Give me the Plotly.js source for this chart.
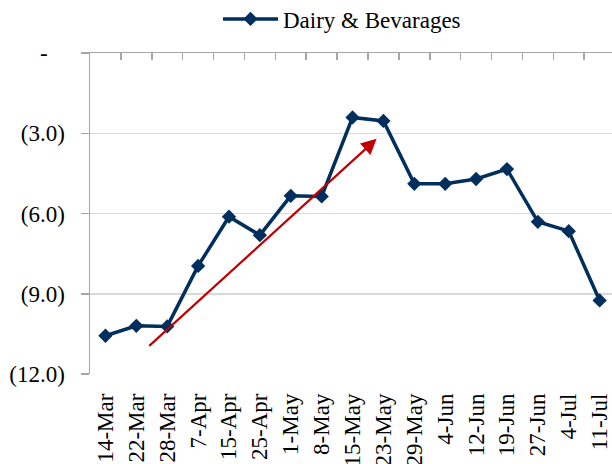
<!DOCTYPE html>
<html>
<head>
<meta charset="utf-8">
<script src="https://cdn.plot.ly/plotly-3.0.1.min.js"></script>
<style>
html,body{margin:0;padding:0;background:#fff;}
#chart{width:612px;height:464px;}
#chart .legendtext{font-family:'Liberation Serif','Times New Roman',serif !important;}
</style>
</head>
<body>
<div id="chart"></div>
<script>
var categories = ["14-Mar","22-Mar","28-Mar","7-Apr","15-Apr","25-Apr","1-May","8-May","15-May","23-May","29-May","4-Jun","12-Jun","19-Jun","27-Jun","4-Jul","11-Jul"];
var dairyValues = [-10.57,-10.2,-10.22,-7.96,-6.12,-6.81,-5.34,-5.36,-2.41,-2.54,-4.89,-4.89,-4.71,-4.34,-6.31,-6.66,-9.25];
var seriesName = "Dairy & Bevarages";
var yTickVals = [0,-3,-6,-9,-12];
var yTickText = ["-\u00a0\u00a0\u00a0","(3.0)","(6.0)","(9.0)","(12.0)"];
var arrowFrom = {x: 1.37, y: -11.0};
var arrowTo = {x: 8.78, y: -3.21};

var font = "Liberation Serif";
var navy = "#002E5D";

var traces = [
  {
    x: categories, y: dairyValues, name: seriesName, type: "scatter", mode: "lines+markers",
    line: {color: navy, width: 3.5},
    marker: {symbol: "diamond", size: 11, color: navy},
    hoverinfo: "skip"
  },
  {
    x: [0], y: [0], xaxis: "x2", yaxis: "y", mode: "markers", marker: {opacity: 0},
    showlegend: false, hoverinfo: "skip"
  }
];

var layout = {
  width: 612, height: 464,
  margin: {l: 90, r: 0, t: 53, b: 90, pad: 0},
  paper_bgcolor: "#ffffff", plot_bgcolor: "#ffffff",
  font: {family: font, size: 23, color: "#000000"},
  showlegend: true,
  legend: {
    orientation: "h", xref: "container", yref: "container",
    x: 218/612, xanchor: "left", y: 1 - 19/464, yanchor: "middle",
    itemwidth: 55, font: {family: font, size: 23, color: "#000000"},
    bgcolor: "rgba(0,0,0,0)"
  },
  xaxis: {
    type: "category", range: [-0.5, 16.4], fixedrange: true,
    showgrid: false, showline: false, zeroline: false, ticks: "",
    tickangle: -90, ticklabelstandoff: 14,
    tickfont: {family: font, size: 23, color: "#000"}
  },
  xaxis2: {
    overlaying: "x", side: "top", anchor: "y", type: "linear",
    range: [-0.5, 16.4], tick0: -0.5, dtick: 1,
    ticks: "inside", ticklen: 7, tickwidth: 1.5, tickcolor: "#A6A6A6",
    showline: true, linecolor: "#A6A6A6", linewidth: 1.5,
    showticklabels: false, showgrid: false, zeroline: false
  },
  yaxis: {
    range: [-12, 0], tickvals: yTickVals, ticktext: yTickText,
    showgrid: true, gridcolor: "#D9D9D9", gridwidth: 1.5,
    zeroline: false, showline: true, linecolor: "#A6A6A6", linewidth: 1.5,
    ticks: "outside", ticklen: 8, tickwidth: 1.5, tickcolor: "#A6A6A6",
    ticklabelstandoff: 11,
    tickfont: {family: font, size: 23, color: "#000"}
  },
  annotations: [{
    x: arrowTo.x, y: arrowTo.y, ax: arrowFrom.x, ay: arrowFrom.y,
    xref: "x", yref: "y", axref: "x", ayref: "y",
    text: "", showarrow: true, arrowhead: 2, arrowsize: 1.4, arrowwidth: 2.2,
    arrowcolor: "#C00000", standoff: 0
  }]
};

Plotly.newPlot("chart", traces, layout, {staticPlot: true, displayModeBar: false}).then(function(){
  var lt = document.querySelectorAll('#chart .legendtext');
  for (var i = 0; i < lt.length; i++) {
    lt[i].style.setProperty('font-family', "'Liberation Serif', serif", 'important');
    var t = lt[i].textContent;
    lt[i].textContent = t;
  }
  void document.body.offsetHeight;
});
</script>
</body>
</html>
